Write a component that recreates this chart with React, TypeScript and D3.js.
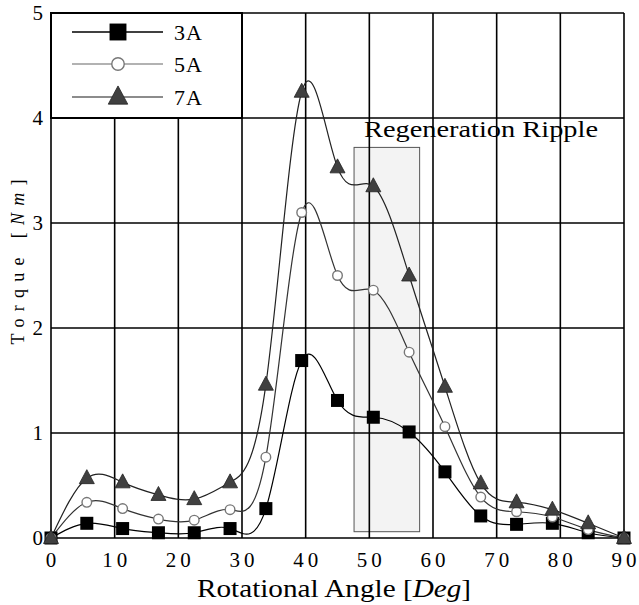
import React from 'react'
import * as d3 from 'd3'

// rotational angle samples (90/16 step)
const angles = [0, 5.625, 11.25, 16.875, 22.5, 28.125, 33.75, 39.375, 45, 50.625, 56.25, 61.875, 67.5, 73.125, 78.75, 84.375, 90]
const torque3A = [0, 0.14, 0.09, 0.05, 0.05, 0.09, 0.28, 1.69, 1.31, 1.15, 1.01, 0.63, 0.21, 0.13, 0.14, 0.05, 0]
const torque5A = [0, 0.34, 0.28, 0.18, 0.17, 0.27, 0.77, 3.1, 2.5, 2.36, 1.77, 1.06, 0.39, 0.25, 0.2, 0.08, 0]
const torque7A = [0, 0.57, 0.53, 0.41, 0.37, 0.53, 1.46, 4.25, 3.53, 3.35, 2.5, 1.44, 0.52, 0.34, 0.27, 0.14, 0]
const xTicks = [0, 10, 20, 30, 40, 50, 60, 70, 80, 90]
const yTicks = [0, 1, 2, 3, 4, 5]
const rippleBand = [47.6, 57.9]
const rippleTop = 3.72

const W = 639
const H = 605
const left = 51
const right = 624
const top = 13
const bottom = 538

const series = [
  { name: '3A', values: torque3A, marker: 'square', line: '#000', legendLine: '#000' },
  { name: '5A', values: torque5A, marker: 'circle', line: '#333', legendLine: '#999' },
  { name: '7A', values: torque7A, marker: 'triangle', line: '#222', legendLine: '#666' },
]

const Marker = ({ kind, x, y, big }: { kind: string; x: number; y: number; big?: boolean }) => {
  const k = big ? 1.3 : 1
  if (kind === 'square')
    return <rect x={x - 6.5 * k} y={y - 6.5 * k} width={13 * k} height={13 * k} fill='#000' />
  if (kind === 'circle')
    return <circle cx={x} cy={y} r={4.8 * k} fill='#fff' stroke='#777' strokeWidth={1.4} />
  return (
    <path
      d={`M${x},${y - 8.5 * k}L${x + 7.5 * k},${y + 5.5 * k}L${x - 7.5 * k},${y + 5.5 * k}Z`}
      fill='#404040'
      stroke='#222'
      strokeWidth={0.8}
    />
  )
}

export default function App() {
  const x = d3.scaleLinear().domain([0, 90]).range([left, right])
  const y = d3.scaleLinear().domain([0, 5]).range([bottom, top])

  const line = d3
    .line<number>()
    .x((_, i) => x(angles[i]))
    .y((d) => y(d))
    .curve(d3.curveNatural)

  const legendRows = [32, 64, 97]

  return (
    <svg
      width={W}
      height={H}
      style={{ position: 'absolute', left: 0, top: 0, background: '#fff' }}
      fontFamily='"Liberation Serif", "Times New Roman", serif'
    >
      <rect width={W} height={H} fill='#fff' />

      {/* ripple band */}
      <rect
        x={x(rippleBand[0])}
        y={y(rippleTop)}
        width={x(rippleBand[1]) - x(rippleBand[0])}
        height={y(0.06) - y(rippleTop)}
        fill='#f3f3f3'
        stroke='#555'
        strokeWidth={1}
      />

      {/* grid */}
      <g stroke='#000' strokeWidth={1.6}>
        {xTicks.map((t) => (
          <line key={'gx' + t} x1={x(t)} x2={x(t)} y1={top} y2={bottom} />
        ))}
        {yTicks.map((t) => (
          <line key={'gy' + t} x1={left} x2={right} y1={y(t)} y2={y(t)} />
        ))}
      </g>

      {/* legend box */}
      <rect x={left} y={top} width={x(30) - left} height={y(4) - top} fill='#fff' stroke='#000' strokeWidth={2} />
      {series.map((s, i) => (
        <g key={'lg' + s.name}>
          <line x1={72} x2={163} y1={legendRows[i]} y2={legendRows[i]} stroke={s.legendLine} strokeWidth={1.3} />
          <Marker kind={s.marker} x={118} y={legendRows[i]} big />
          <text x={174} y={legendRows[i] + 8} fontSize={22} letterSpacing={1}>
            {s.name}
          </text>
        </g>
      ))}

      <text x={364} y={137} fontSize={24} textLength={234} lengthAdjust='spacingAndGlyphs'>
        Regeneration Ripple
      </text>

      {/* curves */}
      {series.map((s) => (
        <path key={'c' + s.name} d={line(s.values) || ''} fill='none' stroke={s.line} strokeWidth={1.2} />
      ))}
      {series.map((s) => (
        <g key={'m' + s.name}>
          {s.values.map((v, i) => (
            <Marker key={i} kind={s.marker} x={x(angles[i])} y={y(v)} />
          ))}
        </g>
      ))}

      {/* ticks */}
      <g fontSize={21} textAnchor='middle'>
        {xTicks.map((t) => (
          <text key={'tx' + t} x={x(t) + 2} y={567} letterSpacing={4}>
            {t}
          </text>
        ))}
      </g>
      <g fontSize={21} textAnchor='end'>
        {yTicks.map((t) => (
          <text key={'ty' + t} x={43} y={y(t) + 7}>
            {t}
          </text>
        ))}
      </g>

      <text x={334} y={597} fontSize={25} textAnchor='middle' textLength={274} lengthAdjust='spacingAndGlyphs'>
        Rotational Angle [<tspan fontStyle='italic'>Deg</tspan>]
      </text>
      <text
        transform='translate(24,262) rotate(-90)'
        fontSize={18}
        textAnchor='middle'
        textLength={165}
        lengthAdjust='spacing'
      >
        Torque [<tspan fontStyle='italic'>Nm</tspan>]
      </text>
    </svg>
  )
}
